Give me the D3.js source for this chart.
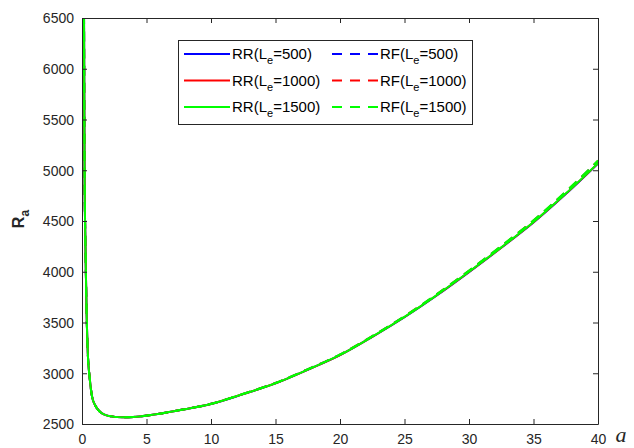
<!DOCTYPE html>
<html>
<head>
<meta charset="utf-8">
<script src="https://cdn.jsdelivr.net/npm/d3@7"></script>
<style>
  html, body { margin: 0; padding: 0; background: #fff; }
  svg { display: block; }
</style>
</head>
<body>
<svg id="chart" width="634" height="448"></svg>
<script>
// Sample positions along the a axis
const aValues = [0.15, 0.16, 0.18, 0.2, 0.25, 0.3, 0.36, 0.45, 0.6, 0.78, 1.0, 1.16, 1.35, 1.55, 1.9, 2.3, 3.1, 4, 5, 6, 7.5, 10, 12.5, 15, 17.5, 20, 22.5, 25, 27.5, 30, 32.5, 35, 37.5, 40];

// R_a for the RR model at three L_e values
const rr500  = [6700, 6400, 5600, 4950, 4400, 4000, 3580, 3200, 2950, 2770, 2690, 2655, 2625, 2605, 2585, 2575, 2566, 2570, 2582, 2600, 2635, 2697, 2794, 2900, 3034, 3178, 3358, 3552, 3766, 3996, 4236, 4485, 4765, 5066];
const rr1000 = [6700, 6400, 5600, 4950, 4400, 4000, 3580, 3200, 2950, 2770, 2690, 2655, 2625, 2605, 2585, 2575, 2566, 2570, 2582, 2600, 2635, 2697, 2795, 2901, 3035, 3179, 3359, 3554, 3768, 3998, 4238, 4488, 4768, 5068];
const rr1500 = [6700, 6400, 5600, 4950, 4400, 4000, 3580, 3200, 2950, 2770, 2690, 2655, 2625, 2605, 2585, 2575, 2566, 2570, 2582, 2600, 2635, 2697, 2795, 2901, 3035, 3180, 3360, 3555, 3770, 4000, 4240, 4490, 4770, 5070];

// R_a for the RF model at three L_e values
const rf500  = [6700, 6400, 5600, 4950, 4400, 4000, 3580, 3200, 2950, 2770, 2690, 2655, 2625, 2605, 2585, 2575, 2566, 2570, 2583, 2601, 2636, 2699, 2797, 2904, 3039, 3183, 3364, 3560, 3776, 4008, 4250, 4502, 4784, 5090];
const rf1000 = [6700, 6400, 5600, 4950, 4400, 4000, 3580, 3200, 2950, 2770, 2690, 2655, 2625, 2605, 2585, 2575, 2566, 2570, 2583, 2601, 2636, 2699, 2797, 2904, 3039, 3184, 3365, 3561, 3778, 4010, 4252, 4504, 4786, 5093];
const rf1500 = [6700, 6400, 5600, 4950, 4400, 4000, 3580, 3200, 2950, 2770, 2690, 2655, 2625, 2605, 2585, 2575, 2566, 2570, 2583, 2601, 2636, 2699, 2798, 2905, 3040, 3185, 3366, 3562, 3780, 4012, 4255, 4507, 4790, 5096];

// Axis ticks
const xTicks = [0, 5, 10, 15, 20, 25, 30, 35, 40];
const yTicks = [2500, 3000, 3500, 4000, 4500, 5000, 5500, 6000, 6500];

// Series definitions, drawn in this order (last one on top)
const seriesNames  = ["RR", "RF", "RR", "RF", "RR", "RF"];
const seriesLe     = ["500", "500", "1000", "1000", "1500", "1500"];
const seriesColors = ["#0000ff", "#0000ff", "#ff0000", "#ff0000", "#00ff00", "#00ff00"];
const seriesDashed = [false, true, false, true, false, true];
const seriesValues = [rr500, rf500, rr1000, rf1000, rr1500, rf1500];

const svg = d3.select("#chart");
const margin = { left: 82, right: 36, top: 18, bottom: 24 };
const W = 634, H = 448;
const x0 = margin.left, x1 = W - margin.right;
const y0 = H - margin.bottom, y1 = margin.top;

const x = d3.scaleLinear().domain([0, 40]).range([x0, x1]);
const y = d3.scaleLinear().domain([2500, 6500]).range([y0, y1]);

const axisColor = "#262626";
const font = "'Liberation Sans', Arial, Helvetica, sans-serif";
const fmt = d3.format("d");

svg.append("defs").append("clipPath").attr("id", "plotClip")
  .append("rect").attr("x", x0).attr("y", y1).attr("width", x1 - x0).attr("height", y0 - y1);

// Curves
const line = d3.line()
  .x(d => x(d[0]))
  .y(d => y(d[1]))
  .curve(d3.curveMonotoneX);

const plot = svg.append("g").attr("clip-path", "url(#plotClip)");
seriesValues.forEach((vals, i) => {
  const pts = aValues.map((a, k) => [a, vals[k]]);
  plot.append("path")
    .attr("d", line(pts))
    .attr("fill", "none")
    .attr("stroke", seriesColors[i])
    .attr("stroke-width", 2)
    .attr("stroke-dasharray", seriesDashed[i] ? "10,7" : null);
});

// Axes with inward ticks
const tickLen = 5;
const xAxis = svg.append("g").attr("transform", `translate(0,${y0})`)
  .call(d3.axisBottom(x).tickValues(xTicks).tickFormat(fmt).tickSize(-tickLen).tickPadding(10).tickSizeOuter(0));
const yAxis = svg.append("g").attr("transform", `translate(${x0},0)`)
  .call(d3.axisLeft(y).tickValues(yTicks).tickFormat(fmt).tickSize(-tickLen).tickPadding(8).tickSizeOuter(0));
const xAxisTop = svg.append("g").attr("transform", `translate(0,${y1})`)
  .call(d3.axisTop(x).tickValues(xTicks).tickSize(-tickLen).tickFormat("").tickSizeOuter(0));
const yAxisRight = svg.append("g").attr("transform", `translate(${x1},0)`)
  .call(d3.axisRight(y).tickValues(yTicks).tickSize(-tickLen).tickFormat("").tickSizeOuter(0));

[xAxis, yAxis, xAxisTop, yAxisRight].forEach(g => {
  g.selectAll("path.domain").attr("stroke", axisColor).attr("stroke-width", 1);
  g.selectAll(".tick line").attr("stroke", axisColor).attr("stroke-width", 1);
  g.selectAll(".tick text")
    .attr("fill", axisColor)
    .style("font-family", font)
    .style("font-size", "14px");
});
xAxis.selectAll(".tick text").attr("dy", "0.71em");
yAxis.selectAll(".tick text").attr("dy", "0.35em");

// Axis titles
svg.append("text")
  .attr("x", 621).attr("y", y0 + 18)
  .attr("text-anchor", "middle")
  .style("font-family", "'Liberation Serif', 'Times New Roman', serif")
  .style("font-style", "italic")
  .style("font-size", "22px")
  .attr("fill", axisColor)
  .text("a");

const yTitle = svg.append("text")
  .attr("transform", `translate(24,${(y0 + y1) / 2 - 2}) rotate(-90)`)
  .attr("text-anchor", "middle")
  .style("font-family", font)
  .style("font-weight", "bold")
  .style("font-size", "16px")
  .attr("fill", axisColor);
yTitle.append("tspan").text("R");
yTitle.append("tspan").attr("dy", "5").style("font-size", "12px").text("a");

// Legend
const lg = svg.append("g");
lg.append("rect")
  .attr("x", 178.5).attr("y", 40.5).attr("width", 294).attr("height", 84)
  .attr("fill", "#fff").attr("stroke", axisColor).attr("stroke-width", 1);

const rowY = [54, 80.5, 107];
const colX = [184, 332];
seriesValues.forEach((_, i) => {
  const row = Math.floor(i / 2), col = i % 2;
  const ly = rowY[row], lx = colX[col];
  lg.append("line")
    .attr("x1", lx).attr("x2", lx + 46)
    .attr("y1", ly).attr("y2", ly)
    .attr("stroke", seriesColors[i])
    .attr("stroke-width", 2)
    .attr("stroke-dasharray", seriesDashed[i] ? "10,8" : null);
  const t = lg.append("text")
    .attr("x", lx + 48).attr("y", ly + 5)
    .style("font-family", font)
    .style("font-size", "15px")
    .attr("fill", "#000");
  t.append("tspan").text(seriesNames[i] + "(L");
  t.append("tspan").attr("dy", "5").style("font-size", "11px").text("e");
  t.append("tspan").attr("dy", "-5").text("=" + seriesLe[i] + ")");
});
</script>
</body>
</html>
